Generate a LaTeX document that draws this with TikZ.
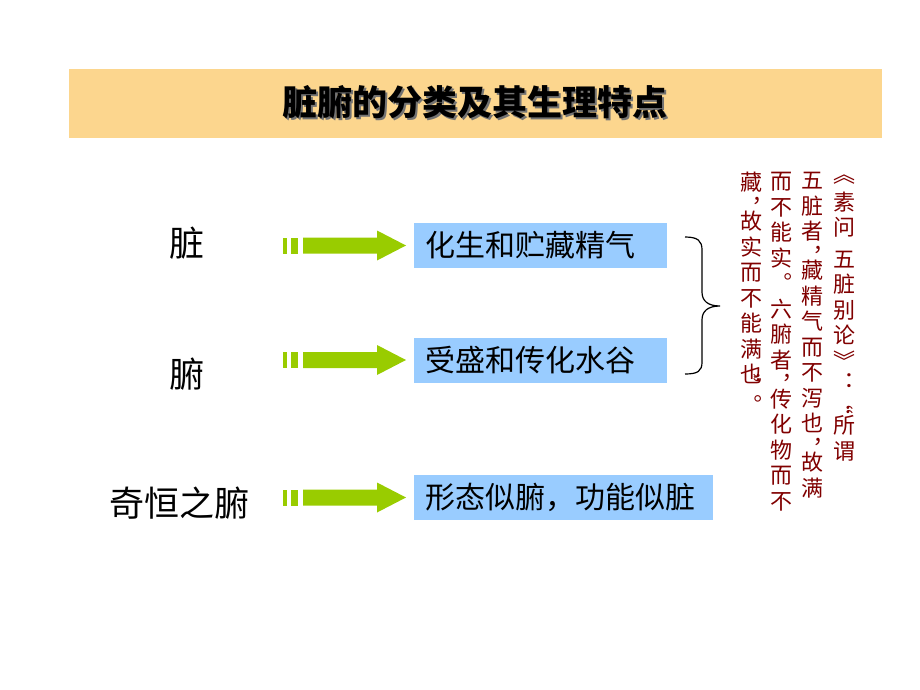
\documentclass[tikz,border=0pt]{standalone}
\usepackage{fontspec}
\newfontfamily\cjk{Noto Sans CJK SC}
\newfontfamily\cjkvert[RawFeature={+vert}]{Noto Sans CJK SC}
\usetikzlibrary{calc}
\definecolor{titlebar}{RGB}{252,214,142}
\definecolor{boxblue}{RGB}{153,204,255}
\definecolor{arrowgreen}{RGB}{153,204,0}
\definecolor{notered}{RGB}{128,0,0}

% block arrow: dashes + body + head, from tail #1 to tip #2
\newcommand{\greenarrow}[2]{%
  \fill[arrowgreen] ($(#1)+(0,-8)$) rectangle ($(#1)+(4,8)$);
  \fill[arrowgreen] ($(#1)+(8,-8)$) rectangle ($(#1)+(15,8)$);
  \fill[arrowgreen] ($(#1)+(20,-8)$) -- ($(#2)+(-29,-8)$) -- ($(#2)+(-29,-15)$) -- (#2)
    -- ($(#2)+(-29,15)$) -- ($(#2)+(-29,8)$) -- ($(#1)+(20,8)$) -- cycle;
}
% quote mark turned for the vertical columns
\newcommand{\vquote}[1]{\rotatebox[origin=c]{-90}{\cjk #1}}

\begin{document}
\begin{tikzpicture}[
    x=1pt, y=-1pt,
    label/.style={font=\cjk\fontsize{35}{40}\selectfont, inner sep=0pt},
    infobox/.style={fill=boxblue, anchor=west, minimum height=45pt, inner xsep=11pt, inner ysep=0pt, align=left, font=\cjk\fontsize{30}{36}\selectfont},
    column/.style={anchor=north, inner sep=0pt, align=center, text=notered, font=\cjkvert\fontsize{22}{25.5}\selectfont},
]
\useasboundingbox (0,0) rectangle (920,690);

% Title
\fill[titlebar] (69,69) rectangle (882,138);
\node[font=\cjk\bfseries\fontsize{35}{40}\selectfont, text=black!55] (titleshadow) at (477,104) {脏腑的分类及其生理特点};
\node[font=\cjk\bfseries\fontsize{35}{40}\selectfont] (title) at (475,102) {脏腑的分类及其生理特点};

% Left labels
\node[label] (zang) at (187,243) {脏};
\node[label] (fu) at (187,374) {腑};
\node[label] (qiheng) at (179,503) {奇恒之腑};

% Blue boxes
\node[infobox, text width=231pt] (zangbox) at (414,245.5) {化生和贮藏精气};
\node[infobox, text width=231pt] (fubox) at (414,360) {受盛和传化水谷};
\node[infobox, text width=277pt] (qhbox) at (414,497.5) {形态似腑，功能似脏};

% Arrows
\coordinate (zangtail) at ($(zangbox.west)+(-131,0)$);
\coordinate (zangtip) at ($(zangbox.west)+(-8,0)$);
\coordinate (futail) at ($(fubox.west)+(-131,0)$);
\coordinate (futip) at ($(fubox.west)+(-8,0)$);
\coordinate (qhtail) at ($(qhbox.west)+(-131,0)$);
\coordinate (qhtip) at ($(qhbox.west)+(-8,0)$);
\greenarrow{zangtail}{zangtip}
\greenarrow{futail}{futip}
\greenarrow{qhtail}{qhtip}

% Brace
\draw[line width=1.2pt] (685,237) .. controls (698,237) and (702,241) .. (702,250) -- (702,292)
  .. controls (702,301) and (708,306) .. (720,306)
  .. controls (708,306) and (702,311) .. (702,320) -- (702,362)
  .. controls (702,371) and (698,374) .. (685,374);

% Quotation, vertical columns
\node[column] (col1) at (844,175) {《\\[2pt]素\\问\\[6pt]五\\脏\\别\\论\\》\\[-4pt]：\\[-4pt]\vquote{“}\\[-4pt]所\\谓};
\node[column] (col2) at (812,172) {五\\脏\\者\\，\\[-12pt]藏\\精\\气\\而\\不\\泻\\也\\，\\[-12pt]故\\满};
\node[column] (col3) at (781,172) {而\\不\\能\\实\\。\\六\\腑\\者\\，\\[-12pt]传\\化\\物\\而\\不};
\node[column] (col4) at (751,172) {藏\\，\\[-12pt]故\\实\\而\\不\\能\\满\\也\\[-14pt]\vquote{”}\\[-6pt]。};

\end{tikzpicture}
\end{document}
